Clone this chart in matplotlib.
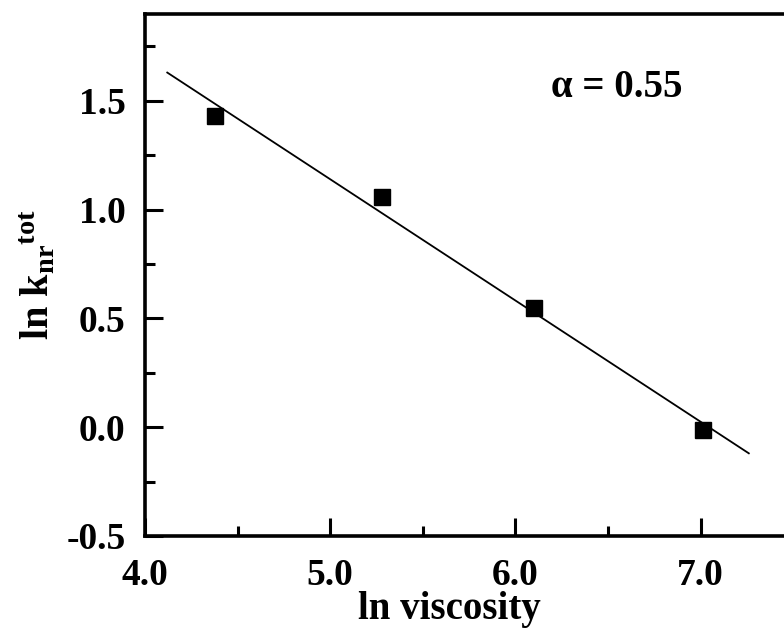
import matplotlib
matplotlib.use("Agg")
import matplotlib.pyplot as plt
from matplotlib.ticker import MultipleLocator

plt.rcParams['font.family'] = ['Liberation Serif', 'DejaVu Serif']
plt.rcParams['font.weight'] = 'bold'
plt.rcParams['mathtext.fontset'] = 'custom'
plt.rcParams['mathtext.rm'] = 'Liberation Serif:bold'
plt.rcParams['mathtext.bf'] = 'Liberation Serif:bold'
plt.rcParams['mathtext.it'] = 'Liberation Serif:italic:bold'

# measured points
ln_visc = [4.38, 5.28, 6.10, 7.01]
ln_knr = [1.43, 1.06, 0.55, -0.015]

# fitted line end points
fit_x = [4.12, 7.26]
fit_y = [1.63, -0.12]

alpha_label = "\u03b1 = 0.55"

fig = plt.figure(figsize=(7.84, 6.28), dpi=100)
ax = fig.add_axes([0.185, 0.1465, 0.815, 0.8315])

ax.plot(fit_x, fit_y, color='black', lw=1.3)
ax.plot(ln_visc, ln_knr, 's', color='black', markersize=11)

ax.set_xlim(4.0, 7.45)
ax.set_ylim(-0.5, 1.9)
ax.xaxis.set_major_locator(MultipleLocator(1.0))
ax.xaxis.set_minor_locator(MultipleLocator(0.5))
ax.yaxis.set_major_locator(MultipleLocator(0.5))
ax.yaxis.set_minor_locator(MultipleLocator(0.25))
ax.xaxis.set_major_formatter(plt.FormatStrFormatter('%.1f'))
ax.yaxis.set_major_formatter(plt.FormatStrFormatter('%.1f'))

ax.tick_params(which='major', direction='in', length=13, width=2.2,
               labelsize=27, pad=14)
ax.tick_params(which='minor', direction='in', length=7, width=2.2)
ax.tick_params(axis='x', pad=16)
for side in ['left', 'bottom', 'top']:
    ax.spines[side].set_linewidth(2.6)
ax.spines['right'].set_visible(False)

ax.set_xlabel('ln viscosity', fontsize=28, fontweight='bold')
ax.xaxis.set_label_coords(0.477, -0.105)
ax.set_ylabel(r'ln k$_{\mathregular{nr}}$$^{\mathregular{tot}}$', fontsize=29,
              fontweight='bold')
ax.yaxis.set_label_coords(-0.135, 0.5)

ax.text(6.19, 1.56, alpha_label, fontsize=28, fontweight='bold',
        ha='left', va='center')

fig.savefig('out.png', dpi=100)
